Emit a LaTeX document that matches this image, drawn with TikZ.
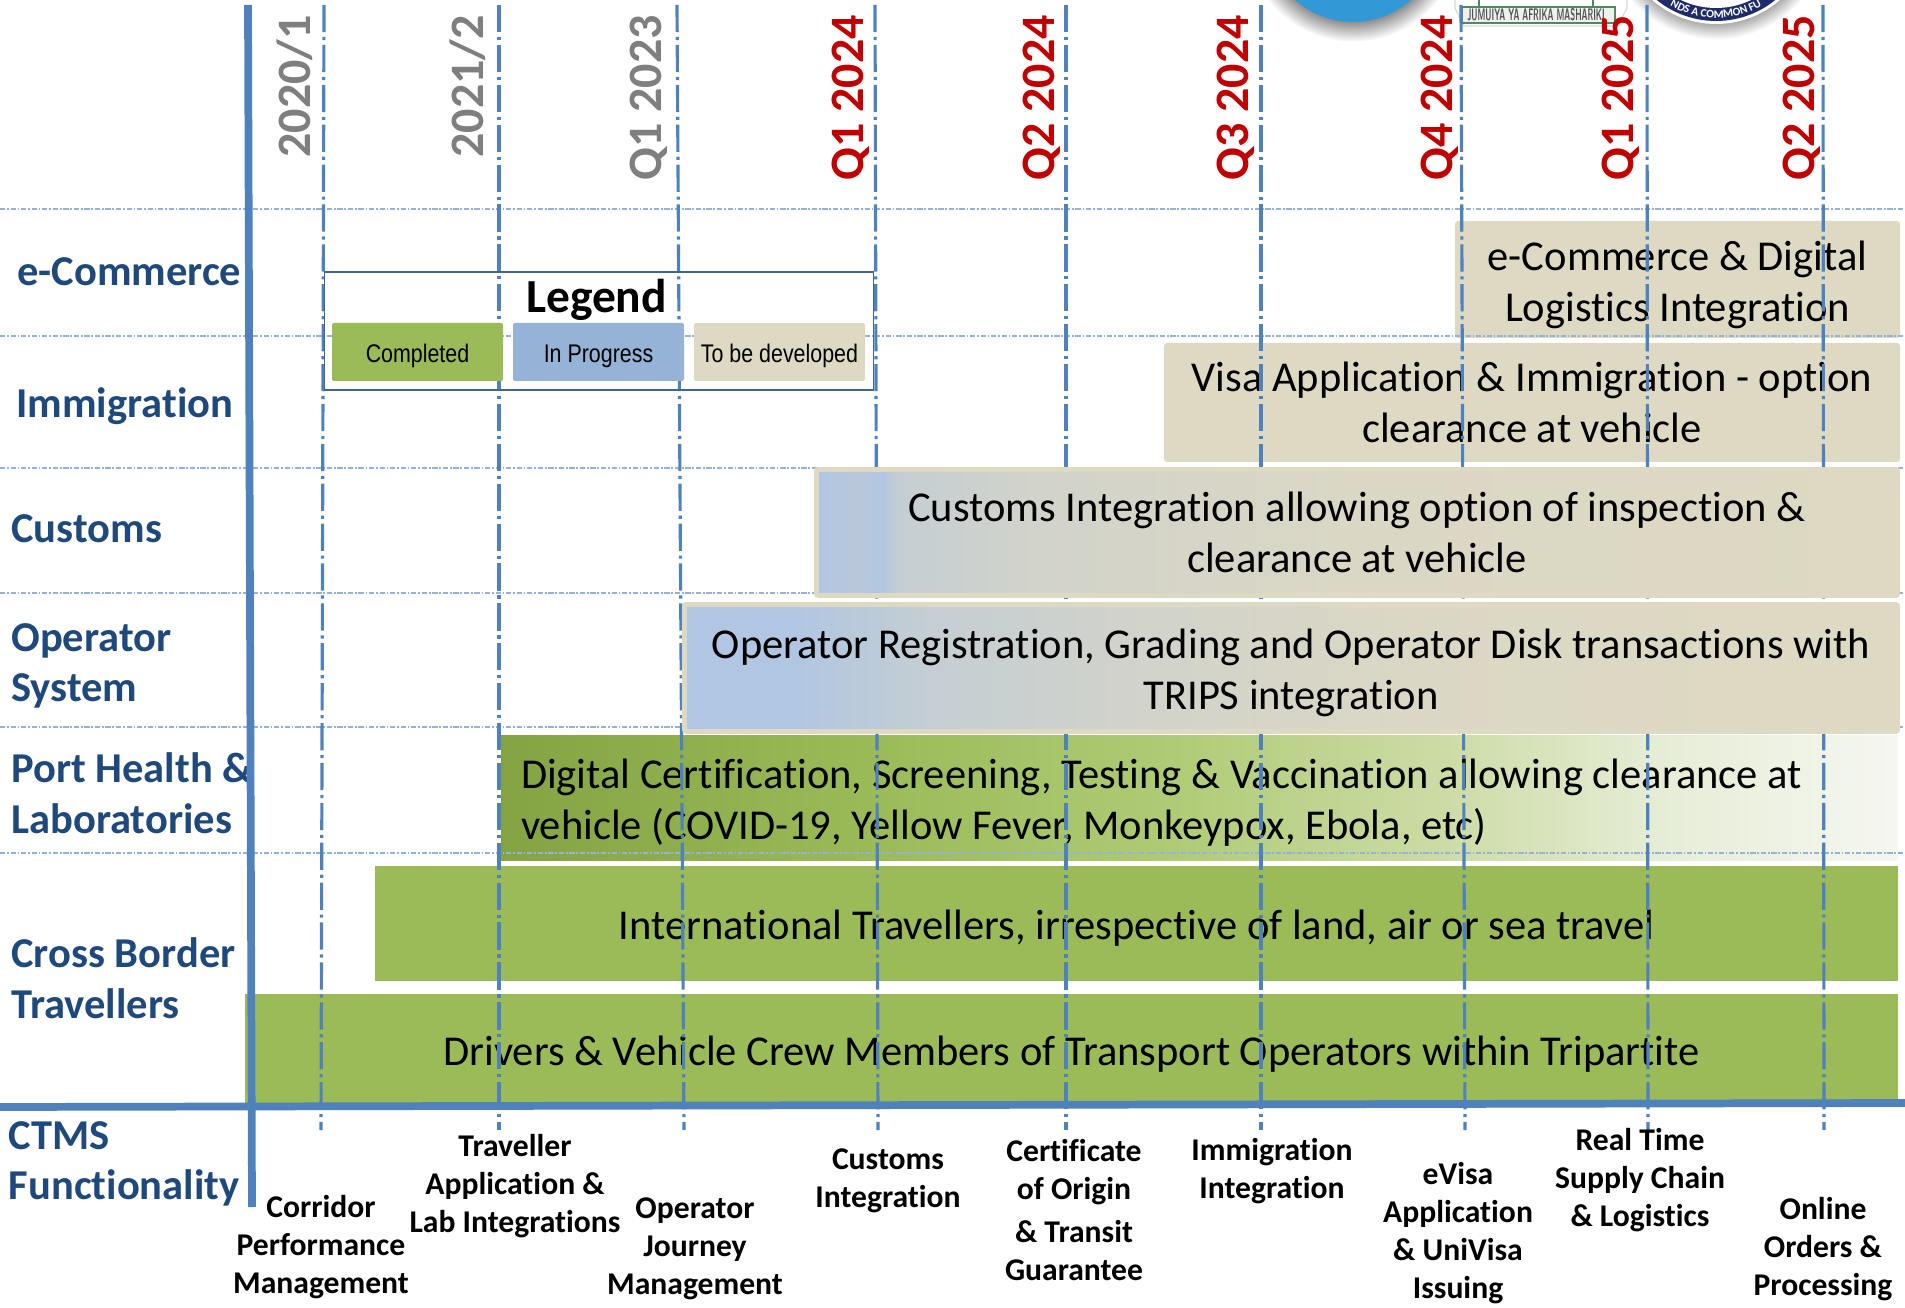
\documentclass[tikz,border=0pt]{standalone}
\usepackage{fontspec}
\usepackage{graphicx}
\setmainfont[Ligatures=NoCommon]{Carlito}
\newfontfamily\legendfont{Liberation Sans}
\usetikzlibrary{decorations.text}

\definecolor{axisblue}{HTML}{4F81BD}
\definecolor{rowblue}{HTML}{95B3D7}
\definecolor{labelblue}{HTML}{1F497D}
\definecolor{donegreen}{HTML}{9BBB59}
\definecolor{progblue}{HTML}{95B3D7}
\definecolor{todotan}{HTML}{DDD9C3}
\definecolor{quartred}{HTML}{C00000}
\definecolor{oldgray}{HTML}{7F7F7F}
\definecolor{fadea}{HTML}{B0C6E2}
\definecolor{fadeb}{HTML}{B8C8DA}
\definecolor{fadec}{HTML}{C4CED3}
\definecolor{faded}{HTML}{D2D3CA}
\definecolor{fadee}{HTML}{DAD7C4}
\definecolor{healtha}{HTML}{84A343}
\definecolor{healthb}{HTML}{AFCB75}
\definecolor{healthc}{HTML}{CFDDAA}
\definecolor{healthd}{HTML}{E6EDD6}
\definecolor{healthe}{HTML}{F5F7F0}
\definecolor{discblue}{HTML}{3399D6}
\definecolor{ringnavy}{HTML}{1F2C6B}
\definecolor{crestgreen}{HTML}{4E8A5E}
\definecolor{shadowgray}{HTML}{8F8F8F}

\pgfdeclarehorizontalshading{customsfade}{100bp}{
  color(0bp)=(fadea);
  color(25bp)=(fadea);
  color(27bp)=(fadeb);
  color(28.1bp)=(fadea);
  color(28.7bp)=(fadec);
  color(35bp)=(faded);
  color(50bp)=(fadee);
  color(75bp)=(todotan);
  color(100bp)=(todotan)}
\pgfdeclarehorizontalshading{operatorfade}{100bp}{
  color(0bp)=(fadea);
  color(29.5bp)=(fadea);
  color(35bp)=(fadec);
  color(44bp)=(faded);
  color(54.5bp)=(fadee);
  color(69bp)=(todotan);
  color(100bp)=(todotan)}
\pgfdeclarehorizontalshading{healthfade}{100bp}{
  color(0bp)=(healtha);
  color(25bp)=(healtha);
  color(38.5bp)=(donegreen);
  color(49bp)=(healthb);
  color(59.5bp)=(healthc);
  color(66.5bp)=(healthd);
  color(75bp)=(healthe);
  color(100bp)=(healthe)}
\pgfdeclareradialshading{logoshadow}{\pgfpoint{0bp}{0bp}}{
  color(0bp)=(shadowgray);
  color(20.3bp)=(shadowgray);
  color(25bp)=(white);
  color(50bp)=(white)}

\newcommand{\barstrut}{\rule{0pt}{22.5pt}}
\newcommand{\keystrut}{\rule{0pt}{14.5pt}}

\tikzset{
  griddash/.style={axisblue, line width=1.8pt, dash pattern=on 15.5pt off 2.7pt on 1.8pt off 2.7pt},
  rowline/.style={rowblue, line width=0.6pt, dash pattern=on 3pt off 1pt on 1pt off 1pt},
  axisline/.style={axisblue, line width=4.4pt},
  barbox/.style={rectangle, inner sep=0pt, outer sep=0pt, align=center, font=\fontsize{24.2}{28.9}\selectfont},
  tanbar/.style={barbox, fill=todotan, rounded corners=0.06cm},
  greenbar/.style={barbox, fill=donegreen},
  fadebar/.style={barbox, draw=todotan, line width=2.8pt, rounded corners=0.04cm},
  quarter/.style={rotate=90, anchor=east, inner sep=0pt, font=\fontsize{27.3}{30}\selectfont\bfseries},
  rowlabel/.style={anchor=west, inner sep=0pt, align=left, text=labelblue, font=\fontsize{24.2}{28.9}\selectfont\bfseries},
  funclabel/.style={inner sep=0pt, align=center, font=\fontsize{18}{21.6}\selectfont\bfseries},
  legendkey/.style={rectangle, inner sep=0pt, rounded corners=0.04cm, minimum width=3.42cm, minimum height=1.16cm, font=\legendfont\fontsize{14.5}{17}\selectfont}
}

\begin{document}
\begin{tikzpicture}

    \useasboundingbox (0,0) rectangle (38.1,26.14);
    \clip (0,0) rectangle (38.1,26.14);

    % logos cut off at the top edge
    \shade[shading=logoshadow] (27.06,27.45) circle (2.15);
    \fill[discblue] (27.06,27.45) circle (1.75);

    \shade[shading=logoshadow] (34.32,27.6) circle (2.25);
    \fill[white] (34.32,27.6) circle (1.94);
    \fill[ringnavy] (34.32,27.6) circle (1.88);
    \fill[white] (34.32,27.6) circle (1.62);
    \path[postaction={decorate}, decoration={text along path, text align=center,
        text={|\fontsize{6.5}{7}\selectfont\bfseries\color{white}|NDS A COMMON FU}}]
        (34.32,27.6) ++(222:1.82) arc (222:318:1.82);

    \draw[gray!30, line width=0.7pt, fill=white] (29.1,25.98) -- (29.28,25.62) -- (32.36,25.62) -- (32.54,25.98) -- (32.54,26.2) -- (29.1,26.2) -- cycle;
    \draw[crestgreen, line width=1.3pt, fill=green!8!gray!12] (29.24,26.0) rectangle (32.3,25.68);
    \draw[crestgreen, line width=1.3pt] (29.58,26.0) -- (29.58,26.2);
    \draw[crestgreen, line width=1.3pt] (31.86,26.0) -- (31.86,26.2);
    \node[inner sep=0pt, text=gray!65!black] (crest) at (30.72,25.84) {\resizebox{2.75cm}{0.24cm}{\bfseries\sffamily JUMUIYA YA AFRIKA MASHARIKI}};

    % bars that the grid runs over
    \node[tanbar, minimum width=8.9cm, minimum height=2.34cm] (ecom) at (33.55,20.55) {\barstrut e-Commerce \& Digital\\Logistics Integration};
    \node[tanbar, minimum width=14.72cm, minimum height=2.38cm] (immig) at (30.64,18.09) {Visa Application \& Immigration - option\\clearance at vehicle};
    \node[barbox, shading=healthfade, minimum width=27.94cm, minimum height=2.48cm, align=flush left, text width=27.14cm] (health) at (23.99,10.18) {\barstrut Digital Certification, Screening, Testing \& Vaccination allowing clearance at\\vehicle (COVID-19, Yellow Fever, Monkeypox, Ebola, etc)};
    \node[greenbar, minimum width=30.46cm, minimum height=2.3cm] (intl) at (22.73,7.67) {\barstrut International Travellers, irrespective of land, air or sea travel};
    \node[greenbar, minimum width=33.06cm, minimum height=2.22cm] (drivers) at (21.43,5.15) {\barstrut Drivers \& Vehicle Crew Members of Transport Operators within Tripartite};

    % row separators
    \coordinate (r1a) at (0,21.96);  \coordinate (r1b) at (38.1,21.96);
    \coordinate (r2a) at (0,19.42);  \coordinate (r2b) at (38.1,19.42);
    \coordinate (r3a) at (0,16.78);  \coordinate (r3b) at (38.1,16.78);
    \coordinate (r4a) at (0,14.28);  \coordinate (r4b) at (38.1,14.28);
    \coordinate (r5a) at (0,11.6);   \coordinate (r5b) at (38.1,11.6);
    \coordinate (r6a) at (0,9.08);   \coordinate (r6b) at (38.1,9.08);

    \draw[rowline] (r1a) -- (r1b);
    \draw[rowline] (r2a) -- (r2b);
    \draw[rowline] (r3a) -- (r3b);
    \draw[rowline] (r4a) -- (r4b);
    \draw[rowline] (r5a) -- (r5b);
    \draw[rowline] (r6a) -- (r6b);

    % quarter lines
    \coordinate (g1a) at (6.48,26.04);   \coordinate (g1b) at (6.42,3.54);
    \coordinate (g2a) at (9.98,26.04);   \coordinate (g2b) at (9.98,3.54);
    \coordinate (g3a) at (13.54,26.04);  \coordinate (g3b) at (13.68,3.54);
    \coordinate (g4a) at (17.5,26.04);   \coordinate (g4b) at (17.56,3.54);
    \coordinate (g5a) at (21.32,26.04);  \coordinate (g5b) at (21.32,3.54);
    \coordinate (g6a) at (25.22,26.04);  \coordinate (g6b) at (25.22,3.54);
    \coordinate (g7a) at (29.22,26.04);  \coordinate (g7b) at (29.3,3.54);
    \coordinate (g8a) at (32.94,26.04);  \coordinate (g8b) at (32.96,3.54);
    \coordinate (g9a) at (36.46,26.04);  \coordinate (g9b) at (36.48,3.54);

    \draw[griddash] (g1a) -- (g1b);
    \draw[griddash] (g2a) -- (g2b);
    \draw[griddash] (g3a) -- (g3b);
    \draw[griddash] (g4a) -- (g4b);
    \draw[griddash] (g5a) -- (g5b);
    \draw[griddash] (g6a) -- (g6b);
    \draw[griddash] (g7a) -- (g7b);
    \draw[griddash] (g8a) -- (g8b);
    \draw[griddash] (g9a) -- (g9b);

    % bars that hide the grid
    \node[fadebar, shading=customsfade, minimum width=21.62cm, minimum height=2.52cm] (customs) at (27.14,15.49) {Customs Integration allowing option of inspection \&\\clearance at vehicle};
    \node[fadebar, shading=operatorfade, minimum width=24.26cm, minimum height=2.54cm] (operator) at (25.82,12.78) {\barstrut Operator Registration, Grading and Operator Disk transactions with\\TRIPS integration};

    % legend
    \node[draw=labelblue!85!white, line width=0.8pt, inner sep=0pt, minimum width=10.98cm, minimum height=2.36cm] (legend) at (11.98,19.52) {};
    \node[inner sep=0pt, font=\fontsize{27}{30}\selectfont\bfseries] (legendtitle) at (11.93,20.15) {Legend};
    \node[legendkey, fill=donegreen] (keydone) at (8.35,19.1) {\keystrut\scalebox{0.84}[1]{Completed}};
    \node[legendkey, fill=progblue] (keyprog) at (11.97,19.1) {\keystrut\scalebox{0.84}[1]{In Progress}};
    \node[legendkey, fill=todotan] (keytodo) at (15.59,19.1) {\keystrut\scalebox{0.84}[1]{To be developed}};

    % quarters
    \node[quarter, text=oldgray] (y2020) at (5.9,25.84) {2020/1};
    \node[quarter, text=oldgray] (y2021) at (9.36,25.84) {2021/2};
    \node[quarter, text=oldgray] (q123) at (12.98,25.84) {Q1 2023};
    \node[quarter, text=quartred] (q124) at (17.02,25.84) {Q1 2024};
    \node[quarter, text=quartred] (q224) at (20.84,25.84) {Q2 2024};
    \node[quarter, text=quartred] (q324) at (24.72,25.84) {Q3 2024};
    \node[quarter, text=quartred] (q424) at (28.8,25.84) {Q4 2024};
    \node[quarter, text=quartred] (q125) at (32.42,25.84) {Q1 2025};
    \node[quarter, text=quartred] (q225) at (36.04,25.84) {Q2 2025};

    % row names
    \node[rowlabel] (lecom) at (0.34,20.7) {e-Commerce};
    \node[rowlabel] (limmig) at (0.32,18.02) {Immigration};
    \node[rowlabel] (lcustoms) at (0.22,15.56) {Customs};
    \node[rowlabel] (loperator) at (0.22,12.82) {Operator\\System};
    \node[rowlabel] (lhealth) at (0.22,10.28) {Port Health \&\\Laboratories};
    \node[rowlabel] (ltravel) at (0.22,6.58) {Cross Border\\Travellers};
    \node[rowlabel] (lctms) at (0.17,2.86) {CTMS\\Functionality};

    % functionality names
    \node[funclabel] (fcorridor) at (6.42,1.19) {Corridor\\Performance\\Management};
    \node[funclabel] (ftraveller) at (10.3,2.41) {Traveller\\Application \&\\Lab Integrations};
    \node[funclabel] (fjourney) at (13.9,1.17) {Operator\\Journey\\Management};
    \node[funclabel] (fcustoms) at (17.76,2.53) {Customs\\Integration};
    \node[funclabel] (forigin) at (21.48,1.94) {Certificate\\of Origin\\[2.8pt]\& Transit\\Guarantee};
    \node[funclabel] (fimmig) at (25.44,2.71) {Immigration\\Integration};
    \node[funclabel] (fvisa) at (29.16,1.47) {eVisa\\Application\\\& UniVisa\\Issuing};
    \node[funclabel] (fsupply) at (32.8,2.53) {Real Time\\Supply Chain\\\& Logistics};
    \node[funclabel] (forders) at (36.46,1.16) {Online\\Orders \&\\Processing};

    % axes
    \coordinate (axtop) at (4.96,26.04);
    \coordinate (axbot) at (5.04,2.0);
    \coordinate (axleft) at (0,4.0);
    \coordinate (axright) at (38.1,4.08);

    \draw[axisline] (axleft) -- (axright);
    \draw[axisline] (axtop) -- (axbot);

\end{tikzpicture}
\end{document}
